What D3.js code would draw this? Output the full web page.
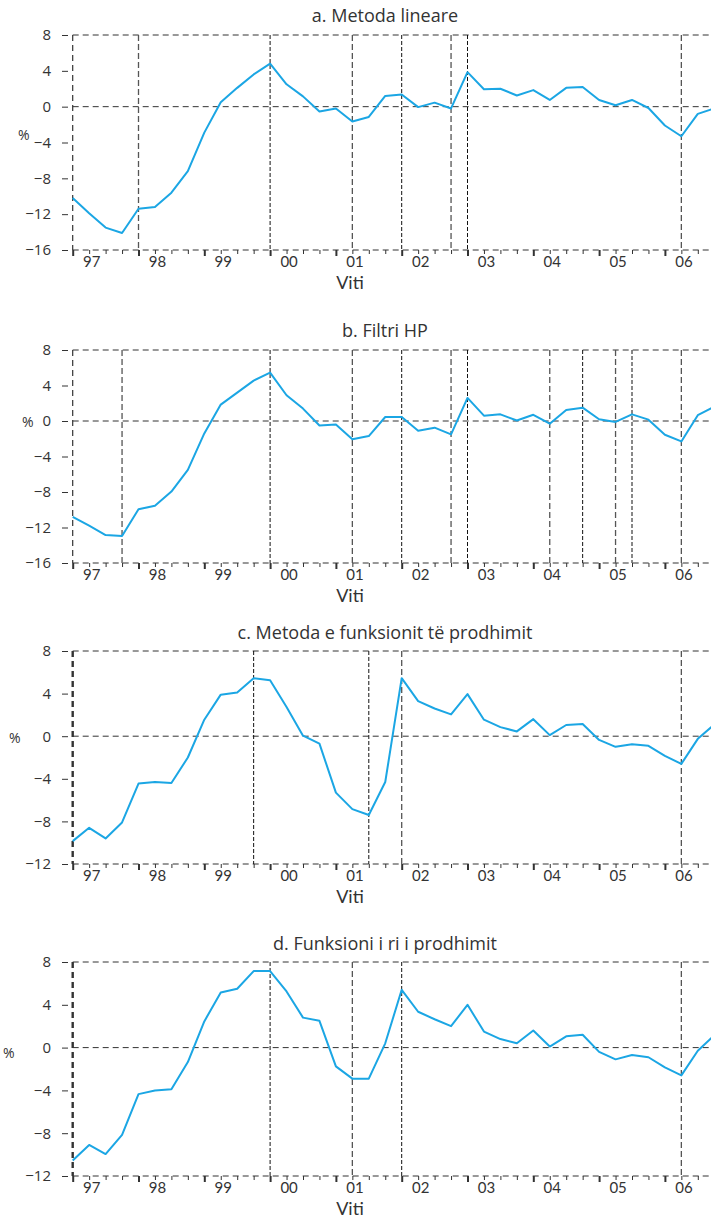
<!doctype html>
<html>
<head>
<meta charset="utf-8">
<script src="https://d3js.org/d3.v7.min.js"></script>
<style>
  body{ margin:0; background:#fff; }
  text{ font-family: "Open Sans", Lato, sans-serif; fill:#333; }
  text.yr, text.xlab{ font-family: Lato, "Open Sans", sans-serif; }
  .grid{ stroke:#333; stroke-width:1; stroke-dasharray:6,4; fill:none; }
  .trough{ stroke:#555; stroke-width:1.3; stroke-dasharray:6,3; }
  .peak{ stroke:#111; stroke-width:1; stroke-dasharray:4,2; }
  .gap{ fill:none; stroke:#1ba6e4; stroke-width:2; stroke-linejoin:round; }
  .axis path.domain{ display:none; }
  .axis line{ stroke:#333; }
</style>
</head>
<body>
<script>
// year labels (quarterly data, 1997Q1 .. 2006Q4)
var years = ['97','98','99','00','01','02','03','04','05','06'];

// output gap, %
var linearGap = [-10.2,-11.9,-13.5,-14.1,-11.4,-11.2,-9.6,-7.2,-2.9,0.5,
  2.1,3.6,4.8,2.5,1.15,-0.55,-0.2,-1.65,-1.15,1.2,
  1.35,-0.05,0.45,-0.2,3.85,1.95,2.0,1.25,1.85,0.75,
  2.1,2.2,0.75,0.15,0.75,-0.15,-2.1,-3.3,-0.8,-0.2];
var hpGap = [-10.8,-11.8,-12.85,-12.95,-9.95,-9.55,-7.95,-5.5,-1.4,1.85,
  3.2,4.55,5.45,2.9,1.4,-0.5,-0.4,-2.05,-1.7,0.45,
  0.45,-1.1,-0.75,-1.5,2.6,0.6,0.75,0.05,0.7,-0.3,
  1.25,1.5,0.2,-0.1,0.75,0.15,-1.55,-2.3,0.65,1.6];
var prodFnGap = [-9.85,-8.6,-9.6,-8.1,-4.45,-4.3,-4.4,-2.0,1.55,3.9,
  4.1,5.45,5.25,2.75,0.05,-0.7,-5.3,-6.85,-7.4,-4.3,
  5.45,3.3,2.6,2.05,3.95,1.55,0.85,0.45,1.6,0.1,
  1.05,1.15,-0.35,-1.0,-0.75,-0.9,-1.85,-2.6,-0.25,1.1];
var newProdFnGap = [-10.55,-9.1,-9.95,-8.15,-4.35,-4.0,-3.9,-1.35,2.45,5.15,
  5.5,7.15,7.15,5.25,2.8,2.5,-1.75,-2.9,-2.9,0.4,
  5.4,3.35,2.65,2.0,4.0,1.5,0.8,0.4,1.6,0.1,
  1.05,1.2,-0.4,-1.1,-0.7,-0.9,-1.85,-2.6,-0.3,1.15];

// turning points (quarter index)
var peaksA = [12,20,24], troughsA = [4,17,23,37];
var peaksB = [12,20,24,31,34], troughsB = [3,17,23,29,33,37];
var peaksC = [11,18], troughsC = [20,37];
var peaksD = [12,20], troughsD = [17,37];

var titles = ['a. Metoda lineare','b. Filtri HP',
  'c. Metoda e funksionit të prodhimit','d. Funksioni i ri i prodhimit'];

var W = 711, H = 1220, x0 = 72.7, step = 16.45, nQ = years.length*4;
var x = d3.scaleLinear().domain([0, nQ-1]).range([x0, x0+(nQ-1)*step]);

var svg = d3.select('body').append('svg').attr('width',W).attr('height',H);

var panels = [
  {title:titles[0], values:linearGap, domain:[-16,8], top:35, bottom:250,
   peaks:peaksA, troughs:troughsA, titleY:22, pct:[18,140], boldAxis:false},
  {title:titles[1], values:hpGap, domain:[-16,8], top:350, bottom:563,
   peaks:peaksB, troughs:troughsB, titleY:337, pct:[22,427], boldAxis:false},
  {title:titles[2], values:prodFnGap, domain:[-12,8], top:651, bottom:864,
   peaks:peaksC, troughs:troughsC, titleY:639, pct:[9,743], boldAxis:true},
  {title:titles[3], values:newProdFnGap, domain:[-12,8], top:962, bottom:1176,
   peaks:peaksD, troughs:troughsD, titleY:950, pct:[3,1058], boldAxis:true}
];

panels.forEach(function(p){
  var y = d3.scaleLinear().domain(p.domain).range([p.bottom, p.top]);
  var g = svg.append('g');

  g.append('text').attr('x',385).attr('y',p.titleY)
    .attr('text-anchor','middle').style('font-size','18px').text(p.title);

  // y axis
  var yAxis = d3.axisLeft(y).tickValues(d3.range(p.domain[0], p.domain[1]+1, 4))
    .tickSize(6).tickPadding(11);
  g.append('g').attr('class','axis').attr('transform','translate(68,0)')
    .call(yAxis).selectAll('text').style('font-size','15px').style('fill','#333')
    .style('font-family','"Open Sans", sans-serif');

  g.append('text').attr('x',p.pct[0]).attr('y',p.pct[1])
    .style('font-size','14px').text('%');

  // dashed grid: top, zero, bottom
  g.selectAll('line.h').data([p.domain[1], 0, p.domain[0]]).enter()
    .append('line').attr('class','grid')
    .attr('x1',x0).attr('x2',W+10)
    .attr('y1',function(d){return y(d);}).attr('y2',function(d){return y(d);});

  // left axis
  g.append('line').attr('class','grid')
    .attr('x1',x0).attr('x2',x0).attr('y1',p.top).attr('y2',p.bottom)
    .style('stroke-width', p.boldAxis ? 2.4 : 1.2);

  // turning points
  g.selectAll('line.trough').data(p.troughs).enter()
    .append('line').attr('class','trough')
    .attr('x1',function(d){return x(d);}).attr('x2',function(d){return x(d);})
    .attr('y1',p.top).attr('y2',p.bottom);
  g.selectAll('line.peak').data(p.peaks).enter()
    .append('line').attr('class','peak')
    .attr('x1',function(d){return x(d);}).attr('x2',function(d){return x(d);})
    .attr('y1',p.top).attr('y2',p.bottom);

  // x ticks
  var xAxis = d3.axisBottom(x).tickValues(d3.range(0,nQ)).tickSize(4).tickFormat('');
  var xa = g.append('g').attr('class','axis').attr('transform','translate(0,'+p.bottom+')')
    .call(xAxis);
  xa.selectAll('.tick line')
    .attr('y2',function(d){return d%4===0 ? 6 : 4;})
    .style('stroke-width',function(d){return d%4===0 ? 2 : 1;});

  g.selectAll('text.yr').data(years).enter()
    .append('text').attr('class','yr')
    .attr('x',function(d,i){return x(i*4)+19;}).attr('y',p.bottom+17)
    .attr('text-anchor','middle').style('font-size','15px').text(function(d){return d;});

  g.append('text').attr('class','xlab').attr('x',350).attr('y',p.bottom+39)
    .attr('text-anchor','middle').style('font-size','18px').text('Viti');

  // series
  var line = d3.line().x(function(d,i){return x(i);}).y(function(d){return y(d);});
  g.append('path').datum(p.values).attr('class','gap').attr('d',line);
});
</script>
</body>
</html>
